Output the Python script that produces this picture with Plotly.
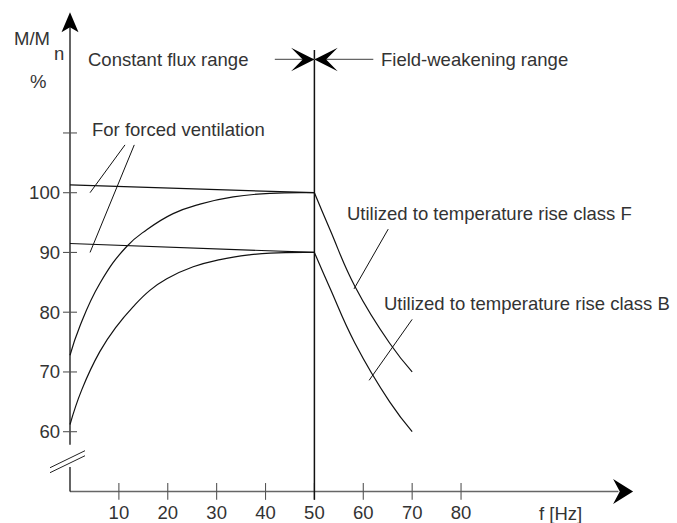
import plotly.graph_objects as go

# ---- axis ticks -------------------------------------------------------------
x_ticks = [10, 20, 30, 40, 50, 60, 70, 80]
x_tick_text = ["10", "20", "30", "40", "50", "60", "70", "80"]
y_ticks = [60, 70, 80, 90, 100, 110]
y_tick_text = ["60", "70", "80", "90", "100", ""]

# ---- forced ventilation: almost constant torque up to rated frequency -------
f_forced = [0, 50]
m_forced_F = [101.3, 100]
m_forced_B = [91.5, 90]

# ---- self ventilation: torque reduced at low speed --------------------------
f_self_F = [0, 2.0, 6.1, 11.6, 15.7, 21.1, 26.6, 33.4, 41, 50]
m_self_F = [72.8, 77.6, 84.8, 91.0, 93.8, 96.5, 98.1, 99.3, 99.9, 100]
f_self_B = [0, 2.4, 6.1, 9.5, 12.9, 16.4, 19.8, 25.2, 30.7, 36.8, 41, 50]
m_self_B = [61.2, 67.0, 73.4, 77.6, 80.9, 83.7, 85.6, 87.6, 88.8, 89.6, 89.9, 90]

# ---- field-weakening range ---------------------------------------------------
f_fw_F = [50, 53.2, 58.3, 65.4, 70]
m_fw_F = [100, 93.8, 84.3, 74.8, 70]
f_fw_B = [50, 53.2, 58.3, 65.4, 70]
m_fw_B = [90, 84.0, 74.8, 65.0, 60]

# ---- leader lines for the labels --------------------------------------------
lead_vent_1 = ([4.1, 11.25], [100, 108])
lead_vent_2 = ([4.1, 13.15], [90, 108])
lead_F = ([58.1, 65.1], [83.9, 93.9])
lead_B = ([61.2, 70.0], [68.6, 78.8])

# ---- frame geometry (data units) --------------------------------------------
x_range = [-14.32, 124.18]
y_range = [44.72, 132.25]
x_origin, y_origin = 0, 50
x_arrow_tip = 115.2
y_arrow_tip = 130.2
y_break = (54.1, 57.8)
base_f = 50
range_marker_y = 122.3

FONT = "Liberation Sans, Arial, sans-serif"
TXT = "#333333"
FS = 18.5

fig = go.Figure()


def line(xs, ys, color="#111111", width=1.2, shape="linear"):
    fig.add_trace(go.Scatter(x=xs, y=ys, mode="lines", hoverinfo="skip",
                             line=dict(color=color, width=width, shape=shape,
                                       smoothing=1.3),
                             showlegend=False))


# axes drawn by hand so the torque axis can carry a break
line([x_origin, x_arrow_tip - 3], [y_origin, y_origin], color="#666666", width=1.4)
line([x_origin, x_origin], [y_origin, y_break[0]], color="#111111", width=1.3)
line([x_origin, x_origin], [y_break[1], y_arrow_tip - 2], color="#111111", width=1.3)
line([-4.09, 3.07], [53.97, 56.82], color="#222222", width=1.0)
line([-4.09, 3.07], [53.14, 55.98], color="#222222", width=1.0)

# tick marks crossing the axes
fig.add_trace(go.Scatter(x=[x_origin] * len(y_ticks), y=y_ticks, mode="markers",
                         hoverinfo="skip", showlegend=False, cliponaxis=False,
                         marker=dict(symbol="line-ew", size=10,
                                     line=dict(color="#555555", width=1.1))))
fig.add_trace(go.Scatter(x=x_ticks, y=[y_origin] * len(x_ticks), mode="markers",
                         hoverinfo="skip", showlegend=False, cliponaxis=False,
                         marker=dict(symbol="line-ns", size=12,
                                     line=dict(color="#555555", width=1.1))))

# boundary between constant flux and field weakening
line([base_f, base_f], [48.6, 123.9], color="#111111", width=1.5)
line([41.9, 62.05], [range_marker_y, range_marker_y], color="#666666", width=1.3)

# torque curves
line(f_forced, m_forced_F)
line(f_forced, m_forced_B)
line(f_self_F, m_self_F, shape="spline")
line(f_self_B, m_self_B, shape="spline")
line(f_fw_F, m_fw_F, shape="spline")
line(f_fw_B, m_fw_B, shape="spline")

# leader lines
for xs, ys in (lead_vent_1, lead_vent_2, lead_F, lead_B):
    line(xs, ys, width=1.0)


def arrow(x, y, path):
    return dict(type="path", xref="x", yref="y", xsizemode="pixel",
                ysizemode="pixel", xanchor=x, yanchor=y, path=path,
                fillcolor="#000000", line=dict(width=0))


shapes = [
    arrow(x_arrow_tip, y_origin, "M0,0 L-20,12.5 L-13.3,0 L-20,-12.5 Z"),
    arrow(x_origin, y_arrow_tip, "M0,0 L-8.5,-20 L0,-15 L8.5,-20 Z"),
    arrow(base_f, range_marker_y, "M0,0 L-23.3,11.7 L-11.7,0 L-23.3,-11.7 Z"),
    arrow(base_f, range_marker_y, "M0,0 L23.3,11.7 L11.7,0 L23.3,-11.7 Z"),
]


def label(text, x, y, xanchor="left", yanchor="middle", size=FS, color=TXT):
    return dict(text=text, x=x, y=y, xref="x", yref="y", showarrow=False,
                xanchor=xanchor, yanchor=yanchor,
                font=dict(family=FONT, size=size, color=color))


annotations = [
    label("Constant flux range", 3.27, range_marker_y),
    label("Field-weakening range", 63.3, range_marker_y),
    label("For forced ventilation", 4.1, 110.5),
    label("Utilized to temperature rise class F", 56.3, 96.55),
    label("Utilized to temperature rise class B", 63.8, 81.5),
    label("M/M", -11.93, 125.8),
    label("n", -3.7, 123.3),
    label("%", -8.6, 118.6),
    label("f [Hz]", 95.6, 46.3),
]

x_pos = (y_origin - y_range[0]) / (y_range[1] - y_range[0])
y_pos = (x_origin - x_range[0]) / (x_range[1] - x_range[0])

fig.update_layout(
    width=677, height=523,
    margin=dict(l=0, r=0, t=0, b=0),
    paper_bgcolor="white", plot_bgcolor="white",
    template="none",
    shapes=shapes,
    annotations=annotations,
    xaxis=dict(range=x_range, anchor="free", position=x_pos,
               tickvals=x_ticks, ticktext=x_tick_text, ticks="",
               showline=False, showgrid=False, zeroline=False,
               automargin=False, ticklabelstandoff=8,
               tickfont=dict(family=FONT, size=FS, color=TXT)),
    yaxis=dict(range=y_range, anchor="free", position=y_pos,
               tickvals=y_ticks, ticktext=y_tick_text, ticks="",
               showline=False, showgrid=False, zeroline=False,
               automargin=False, ticklabelstandoff=10,
               tickfont=dict(family=FONT, size=FS, color=TXT)),
)

fig.write_html("out.html", config={"displayModeBar": False})
